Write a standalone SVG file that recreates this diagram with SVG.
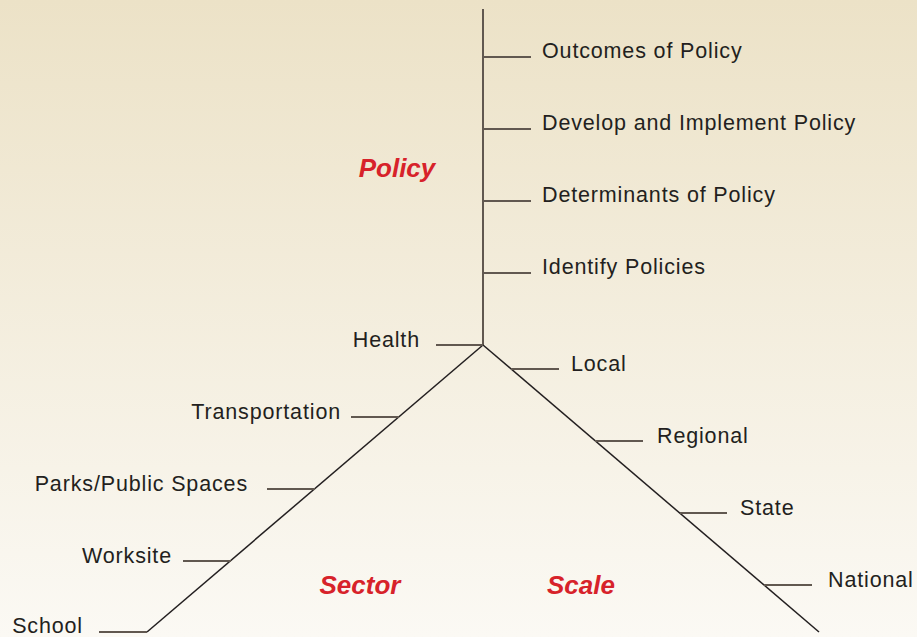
<svg xmlns="http://www.w3.org/2000/svg" width="917" height="637" viewBox="0 0 917 637">
<defs>
<linearGradient id="bg" x1="0" y1="0" x2="0" y2="1">
<stop offset="0" stop-color="#ece2c7"/>
<stop offset="1" stop-color="#fbf9f4"/>
</linearGradient>
<style>
.lbl{font-family:"Liberation Sans",Arial,sans-serif;font-size:21.5px;fill:#231f20;letter-spacing:0.85px}
.cat{font-family:"Liberation Sans",Arial,sans-serif;font-size:26px;font-weight:bold;font-style:italic;fill:#d7222a}
.tick{stroke:#615850;stroke-width:2;fill:none}
.axis{stroke:#615850;stroke-width:2;fill:none}
.diag{stroke:#231f20;stroke-width:1.5;fill:none}
</style>
</defs>
<rect width="917" height="637" fill="url(#bg)"/>
<g id="connectors">
<line class="axis" x1="483" y1="9" x2="483" y2="345"/>
<line class="diag" x1="483" y1="345" x2="147" y2="632"/>
<line class="diag" x1="483" y1="345" x2="819" y2="632"/>
<line class="tick" x1="483" y1="57" x2="531" y2="57"/>
<line class="tick" x1="483" y1="129" x2="531" y2="129"/>
<line class="tick" x1="483" y1="201" x2="531" y2="201"/>
<line class="tick" x1="483" y1="273" x2="531" y2="273"/>
<line class="tick" x1="436" y1="345" x2="483" y2="345"/>
<line class="tick" x1="351" y1="417" x2="399" y2="417"/>
<line class="tick" x1="267" y1="489" x2="315" y2="489"/>
<line class="tick" x1="183" y1="561" x2="231" y2="561"/>
<line class="tick" x1="99" y1="632" x2="147" y2="632"/>
<line class="tick" x1="511" y1="369" x2="559" y2="369"/>
<line class="tick" x1="595" y1="441" x2="643" y2="441"/>
<line class="tick" x1="680" y1="513" x2="727" y2="513"/>
<line class="tick" x1="764" y1="585" x2="812" y2="585"/>
</g>
<g id="policy"><text class="cat" x="397" y="177" text-anchor="middle">Policy</text></g>
<g id="sector"><text class="cat" x="360" y="594" text-anchor="middle">Sector</text></g>
<g id="scale"><text class="cat" x="581" y="594" text-anchor="middle">Scale</text></g>
<g id="outcomes"><text class="lbl" x="542" y="58">Outcomes of Policy</text></g>
<g id="develop"><text class="lbl" x="542" y="130">Develop and Implement Policy</text></g>
<g id="determinants"><text class="lbl" x="542" y="202">Determinants of Policy</text></g>
<g id="identify"><text class="lbl" x="542" y="274">Identify Policies</text></g>
<g id="health"><text class="lbl" x="420" y="347" text-anchor="end">Health</text></g>
<g id="transportation"><text class="lbl" x="341" y="419" text-anchor="end">Transportation</text></g>
<g id="parks"><text class="lbl" x="248" y="491" text-anchor="end">Parks/Public Spaces</text></g>
<g id="worksite"><text class="lbl" x="172" y="563" text-anchor="end">Worksite</text></g>
<g id="school"><text class="lbl" x="83" y="633" text-anchor="end">School</text></g>
<g id="local"><text class="lbl" x="571" y="371">Local</text></g>
<g id="regional"><text class="lbl" x="657" y="443">Regional</text></g>
<g id="state"><text class="lbl" x="740" y="515">State</text></g>
<g id="national"><text class="lbl" x="828" y="587">National</text></g>
</svg>
